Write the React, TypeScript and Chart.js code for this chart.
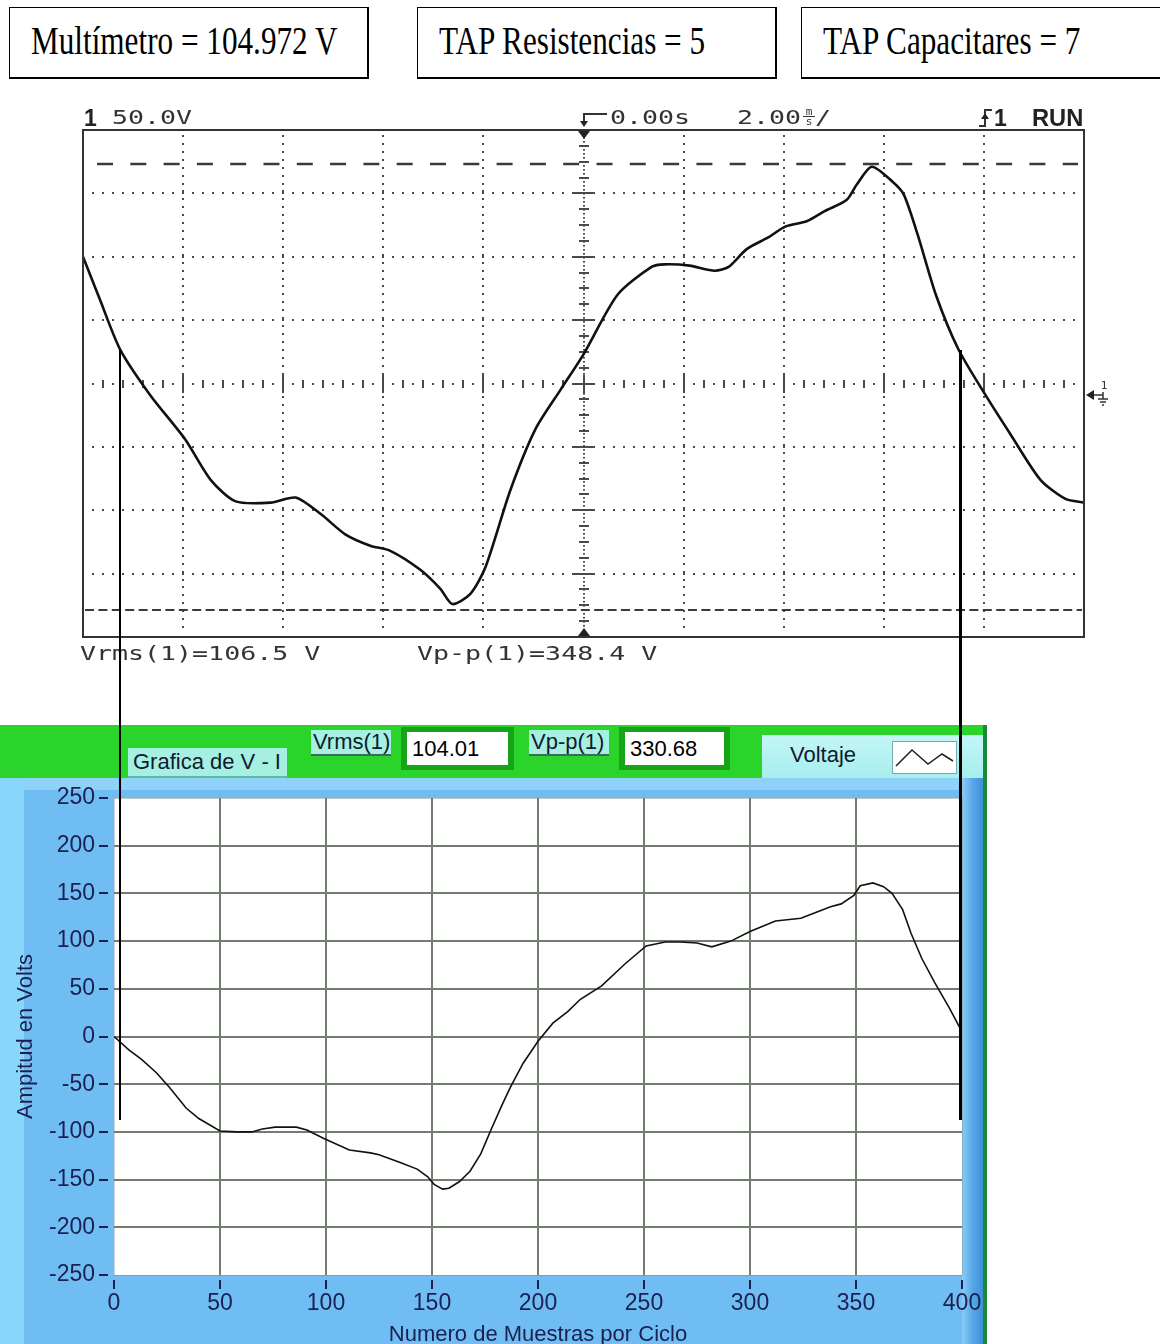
import React, { useEffect, useRef } from "react";
import { Chart, registerables } from "chart.js";

Chart.register(...registerables);

// ---------------- Header boxes ----------------
const headerBoxTexts = ["Multímetro = 104.972 V", "TAP Resistencias = 5", "TAP Capacitares = 7"];

// ---------------- Oscilloscope (top) ----------------
const scopeTimeMs = [-10, -9.66, -9.26, -8.66, -7.96, -7.45, -6.95, -6.25, -5.75, -5.25, -4.76, -4.26, -3.86, -3.26, -2.86, -2.62, -2.26, -1.96, -1.46, -0.96, -0.46, 0, 0.68, 1.36, 1.62, 2.12, 2.62, 2.9, 3.26, 3.68, 4.04, 4.46, 4.82, 5.26, 5.46, 5.76, 6.18, 6.4, 6.68, 7.04, 7.49, 8.03, 8.53, 9.13, 9.63, 10];
const scopeVolts = [100, 66, 27, -9, -44, -76, -93, -94, -90, -103, -119, -128, -132, -147, -162, -174, -166, -145, -84, -36, -5, 23, 70, 92, 94, 93, 89, 92, 106, 115, 124, 128, 136, 145, 157, 171, 159, 149, 117, 70, 27, -9, -40, -76, -91, -94];
const scopeTimeDivisions = [-10, -8, -6, -4, -2, 0, 2, 4, 6, 8, 10];
const scopeVoltDivisions = [-200, -150, -100, -50, 0, 50, 100, 150, 200];
const scopeCursorVolts = [173, -179];
const scopeChannelLabel = "50.0V";
const scopeDelayLabel = "0.00s";
const scopeTimebaseLabel = "2.00";
const scopeVrmsLabel = "Vrms(1)=106.5 V";
const scopeVppLabel = "Vp-p(1)=348.4 V";

// ---------------- LabVIEW graph (bottom) ----------------
const sampleIndex = [0, 7, 13, 20, 26, 34, 40, 50, 58, 65, 70, 76, 86, 91, 99, 111, 121, 125, 135, 143, 148, 151, 155, 158, 163, 168, 173, 178, 183, 187, 193, 200, 207, 214, 220, 230, 241, 251, 260, 267, 275, 282, 291, 300, 312, 324, 331, 338, 343, 349, 352, 358, 363, 367, 372, 376, 381, 387, 394, 399];
const sampleVolts = [0, -14, -24, -38, -53, -75, -86, -99, -100, -100, -97, -95, -95, -98, -107, -119, -122, -124, -132, -139, -147, -155, -160, -159, -152, -141, -123, -97, -72, -53, -28, -5, 14, 26, 39, 53, 76, 95, 99, 99, 98, 94, 100, 110, 121, 124, 130, 136, 139, 148, 158, 161, 157, 150, 133, 108, 82, 57, 30, 9];
const labXTicks = [0, 50, 100, 150, 200, 250, 300, 350, 400];
const labYTicks = [-250, -200, -150, -100, -50, 0, 50, 100, 150, 200, 250];
const labXTitle = "Numero de Muestras por Ciclo";
const labYTitle = "Ampitud en Volts";
const labGraphName = "Grafica de V - I";
const labVrmsName = "Vrms(1)";
const labVrmsValue = "104.01";
const labVppName = "Vp-p(1)";
const labVppValue = "330.68";
const labLegendName = "Voltaje";

const labFont = "'Liberation Sans', Arial, sans-serif";
const labInk = "#1b2050";

// ---------------- plugins ----------------
const scopeDecor = {
  id: "scopeDecor",
  beforeDatasetsDraw(chart: any) {
    const { ctx, chartArea } = chart;
    const { left, top, right, bottom } = chartArea;
    const xs = chart.scales.x;
    const ys = chart.scales.y;
    ctx.save();
    ctx.fillStyle = "#4a4a4a";
    const tMin = scopeTimeDivisions[0];
    const tMax = scopeTimeDivisions[scopeTimeDivisions.length - 1];
    const vMin = scopeVoltDivisions[0];
    const vMax = scopeVoltDivisions[scopeVoltDivisions.length - 1];
    for (const t of scopeTimeDivisions) {
      if (t === tMin || t === tMax || t === 0) continue;
      const px = Math.round(xs.getPixelForValue(t));
      for (let py = top + 6; py < bottom - 3; py += 7.92) ctx.fillRect(px - 1, Math.round(py) - 1, 2, 2);
    }
    for (const v of scopeVoltDivisions) {
      if (v === vMin || v === vMax || v === 0) continue;
      const py = Math.round(ys.getPixelForValue(v));
      for (let px = left + 10; px < right - 3; px += 10.01) ctx.fillRect(Math.round(px) - 1, py - 1, 2, 2);
    }
    const cy = Math.round(ys.getPixelForValue(0));
    const w = right - left;
    for (let k = 1; k < 50; k++) {
      const px = Math.round(left + (k * w) / 50);
      const major = k % 5 === 0;
      const h = major ? 18 : 8;
      ctx.fillRect(px - 1, cy - h / 2, 2, h);
    }
    for (let k = 0; k < 50; k++) {
      const mx = Math.round(left + ((k + 0.5) * w) / 50);
      ctx.fillRect(mx - 1, cy - 1, 2, 2);
    }
    const cx = Math.round(xs.getPixelForValue(0));
    const h = bottom - top;
    for (let py = top + 3; py < bottom - 2; py += 4) ctx.fillRect(cx - 1, py, 2, 1.6);
    for (let k = 1; k < 32; k++) {
      const py = Math.round(top + (k * h) / 32);
      const major = k % 4 === 0;
      const ww = major ? 22 : 10;
      ctx.fillRect(cx - ww / 2, py - 1, ww, 2);
    }
    ctx.strokeStyle = "#3a3a3a";
    ctx.lineWidth = 2.5;
    ctx.setLineDash([16, 17.3]);
    const yHi = Math.round(ys.getPixelForValue(scopeCursorVolts[0]));
    ctx.beginPath();
    ctx.moveTo(left + 14, yHi);
    ctx.lineTo(right - 6, yHi);
    ctx.stroke();
    ctx.lineWidth = 2;
    ctx.setLineDash([9, 4.4]);
    const yLo = Math.round(ys.getPixelForValue(scopeCursorVolts[1]));
    ctx.beginPath();
    ctx.moveTo(left + 2, yLo);
    ctx.lineTo(right - 2, yLo);
    ctx.stroke();
    ctx.restore();
  },
  afterDatasetsDraw(chart: any) {
    const { ctx, chartArea } = chart;
    const { left, top, right, bottom } = chartArea;
    const xs = chart.scales.x;
    const ys = chart.scales.y;
    const cx = Math.round(xs.getPixelForValue(0));
    ctx.save();
    ctx.strokeStyle = "#333";
    ctx.lineWidth = 2;
    ctx.strokeRect(left, top, right - left, bottom - top);
    ctx.fillStyle = "#222";
    ctx.beginPath();
    ctx.moveTo(cx - 6, top + 1);
    ctx.lineTo(cx + 6, top + 1);
    ctx.lineTo(cx, top + 9);
    ctx.closePath();
    ctx.fill();
    ctx.beginPath();
    ctx.moveTo(cx - 6, bottom - 1);
    ctx.lineTo(cx + 6, bottom - 1);
    ctx.lineTo(cx, bottom - 9);
    ctx.closePath();
    ctx.fill();
    ctx.strokeStyle = "#333";
    ctx.lineWidth = 2;
    ctx.beginPath();
    ctx.moveTo(cx + 23, top - 16);
    ctx.lineTo(cx, top - 16);
    ctx.lineTo(cx, top - 8);
    ctx.stroke();
    ctx.beginPath();
    ctx.moveTo(cx - 4, top - 9);
    ctx.lineTo(cx + 4, top - 9);
    ctx.lineTo(cx, top - 3);
    ctx.closePath();
    ctx.fill();
    const ix = right - 99;
    ctx.beginPath();
    ctx.moveTo(ix - 6, top - 4);
    ctx.lineTo(ix, top - 4);
    ctx.lineTo(ix, top - 20);
    ctx.lineTo(ix + 7, top - 20);
    ctx.stroke();
    ctx.beginPath();
    ctx.moveTo(ix - 4, top - 11);
    ctx.lineTo(ix + 4, top - 11);
    ctx.lineTo(ix, top - 17);
    ctx.closePath();
    ctx.fill();
    const gy = Math.round(ys.getPixelForValue(0)) + 11;
    ctx.beginPath();
    ctx.moveTo(right + 2, gy);
    ctx.lineTo(right + 10, gy - 5);
    ctx.lineTo(right + 10, gy + 5);
    ctx.closePath();
    ctx.fill();
    ctx.lineWidth = 1.5;
    ctx.beginPath();
    ctx.moveTo(right + 10, gy);
    ctx.lineTo(right + 19, gy);
    ctx.moveTo(right + 19, gy - 3);
    ctx.lineTo(right + 19, gy + 4);
    ctx.moveTo(right + 14, gy + 4);
    ctx.lineTo(right + 24, gy + 4);
    ctx.moveTo(right + 16, gy + 7);
    ctx.lineTo(right + 22, gy + 7);
    ctx.moveTo(right + 18, gy + 10);
    ctx.lineTo(right + 20, gy + 10);
    ctx.stroke();
    ctx.font = "11px 'DejaVu Sans Mono', monospace";
    ctx.fillStyle = "#333";
    ctx.textAlign = "center";
    ctx.fillText("1", right + 20, gy - 6);
    ctx.restore();
  },
};

const labDecor = {
  id: "labDecor",
  beforeDraw(chart: any) {
    const { ctx, chartArea } = chart;
    const { left, top, right, bottom } = chartArea;
    ctx.save();
    ctx.fillStyle = "#ffffff";
    ctx.fillRect(left, top, right - left, bottom - top);
    ctx.restore();
  },
  afterDraw(chart: any) {
    const { ctx, chartArea } = chart;
    const xs = chart.scales.x;
    const ys = chart.scales.y;
    ctx.save();
    ctx.fillStyle = labInk;
    for (const v of labYTicks) {
      const py = Math.round(ys.getPixelForValue(v));
      ctx.fillRect(chartArea.left - 15, py - 1, 9, 2);
    }
    for (const v of labXTicks) {
      const px = Math.round(xs.getPixelForValue(v));
      ctx.fillRect(px - 1, chartArea.bottom + 5, 2, 9);
    }
    ctx.restore();
  },
};

function ScopeChart() {
  const ref = useRef<HTMLCanvasElement>(null);
  useEffect(() => {
    const chart = new Chart(ref.current as HTMLCanvasElement, {
      type: "line",
      data: {
        datasets: [
          {
            data: scopeTimeMs.map((t, i) => ({ x: t, y: scopeVolts[i] })),
            borderColor: "#111",
            borderWidth: 2.6,
            pointRadius: 0,
            tension: 0.25,
            fill: false,
          },
        ],
      },
      options: {
        animation: false,
        responsive: false,
        devicePixelRatio: 1,
        layout: { autoPadding: false, padding: { left: 13, top: 35, right: 31, bottom: 33 } },
        plugins: { legend: { display: false }, tooltip: { enabled: false } },
        scales: {
          x: { type: "linear", min: scopeTimeDivisions[0], max: scopeTimeDivisions[scopeTimeDivisions.length - 1], display: false },
          y: { type: "linear", min: scopeVoltDivisions[0], max: scopeVoltDivisions[scopeVoltDivisions.length - 1], display: false },
        },
      } as any,
      plugins: [scopeDecor as any],
    });
    return () => chart.destroy();
  }, []);
  return (
    <canvas
      ref={ref}
      width={1045}
      height={575}
      style={{ position: "absolute", left: 70, top: 95, width: 1045, height: 575 }}
    />
  );
}

function LabChart() {
  const ref = useRef<HTMLCanvasElement>(null);
  useEffect(() => {
    const edgeX = (v: number) => v === labXTicks[0] || v === labXTicks[labXTicks.length - 1];
    const edgeY = (v: number) => v === labYTicks[0] || v === labYTicks[labYTicks.length - 1];
    const chart = new Chart(ref.current as HTMLCanvasElement, {
      type: "line",
      data: {
        datasets: [
          {
            data: sampleIndex.map((s, i) => ({ x: s, y: sampleVolts[i] })),
            borderColor: "#111",
            borderWidth: 1.6,
            pointRadius: 0,
            tension: 0,
            fill: false,
          },
        ],
      },
      options: {
        animation: false,
        responsive: false,
        devicePixelRatio: 1,
        layout: { autoPadding: false, padding: { left: 0, top: 20, right: 28, bottom: 0 } },
        plugins: { legend: { display: false }, tooltip: { enabled: false } },
        scales: {
          x: {
            type: "linear",
            min: labXTicks[0],
            max: labXTicks[labXTicks.length - 1],
            afterFit: (s: any) => {
              s.height = 83;
              s.paddingLeft = 0;
              s.paddingRight = 0;
              s.paddingTop = 0;
              s.paddingBottom = 0;
            },
            afterBuildTicks: (s: any) => {
              s.ticks = labXTicks.map((v) => ({ value: v }));
            },
            ticks: {
              padding: 15,
              autoSkip: false,
              maxRotation: 0,
              color: labInk,
              font: { family: labFont, size: 23 },
              callback: (v: any) => String(v),
            },
            grid: {
              drawTicks: false,
              color: (c: any) => (c.tick && edgeX(c.tick.value) ? "rgba(120,130,120,0.35)" : "#737d6f"),
              lineWidth: (c: any) => (c.tick && edgeX(c.tick.value) ? 1 : 2),
            },
            border: { display: false },
            title: {
              display: true,
              text: labXTitle,
              color: labInk,
              font: { family: labFont, size: 22 },
              padding: { top: 0, bottom: 10 },
            },
          },
          y: {
            type: "linear",
            min: labYTicks[0],
            max: labYTicks[labYTicks.length - 1],
            afterFit: (s: any) => {
              s.width = 114;
              s.paddingLeft = 0;
              s.paddingRight = 0;
              s.paddingTop = 0;
              s.paddingBottom = 0;
            },
            afterBuildTicks: (s: any) => {
              s.ticks = labYTicks.map((v) => ({ value: v }));
            },
            ticks: {
              padding: 19,
              autoSkip: false,
              color: labInk,
              font: { family: labFont, size: 23 },
              callback: (v: any) => String(v),
            },
            grid: {
              drawTicks: false,
              color: (c: any) => (c.tick && edgeY(c.tick.value) ? "rgba(120,130,120,0.45)" : "#737d6f"),
              lineWidth: (c: any) => (c.tick && edgeY(c.tick.value) ? 1 : 2),
            },
            border: { display: false },
            title: {
              display: true,
              text: labYTitle,
              color: labInk,
              font: { family: labFont, size: 22 },
              padding: { top: 13, bottom: 0 },
            },
          },
        },
      } as any,
      plugins: [labDecor as any],
    });
    return () => chart.destroy();
  }, []);
  return (
    <canvas
      ref={ref}
      width={990}
      height={580}
      style={{ position: "absolute", left: 0, top: 778, width: 990, height: 580 }}
    />
  );
}

const monoStyle: React.CSSProperties = {
  position: "absolute",
  fontFamily: "'DejaVu Sans Mono', monospace",
  fontSize: 20,
  lineHeight: "20px",
  color: "#333",
  letterSpacing: "0px",
  transform: "scaleX(1.33)",
  transformOrigin: "left top",
  whiteSpace: "pre",
};

const boldStyle: React.CSSProperties = {
  position: "absolute",
  fontFamily: "'Liberation Sans', Arial, sans-serif",
  fontWeight: "bold",
  fontSize: 23,
  lineHeight: "23px",
  color: "#222",
  whiteSpace: "pre",
};

function HeaderBox({ left, width, text }: { left: number; width: number; text: string }) {
  return (
    <div
      style={{
        position: "absolute",
        left,
        top: 7,
        width,
        height: 72,
        boxSizing: "border-box",
        borderTop: "1px solid #000",
        borderLeft: "1px solid #000",
        borderRight: "2px solid #000",
        borderBottom: "2px solid #000",
        background: "#fff",
      }}
    >
      <div
        style={{
          position: "absolute",
          left: 21,
          top: 13,
          fontFamily: "'Liberation Serif', 'Times New Roman', serif",
          fontSize: 39,
          lineHeight: "39px",
          color: "#000",
          whiteSpace: "pre",
          transform: "scaleX(0.8)",
          transformOrigin: "left top",
        }}
      >
        {text}
      </div>
    </div>
  );
}

const labTextStyle: React.CSSProperties = {
  fontFamily: labFont,
  fontSize: 22,
  color: "#111a30",
  whiteSpace: "pre",
  lineHeight: "22px",
};

export default function App() {
  return (
    <div
      style={{
        position: "absolute",
        left: 0,
        top: 0,
        width: 1160,
        height: 1344,
        overflow: "hidden",
        background: "#fff",
      }}
    >
      <HeaderBox left={9} width={360} text={headerBoxTexts[0]} />
      <HeaderBox left={417} width={360} text={headerBoxTexts[1]} />
      <HeaderBox left={801} width={400} text={headerBoxTexts[2]} />

      {/* Oscilloscope */}
      <ScopeChart />
      <div style={{ ...boldStyle, left: 84, top: 107 }}>1</div>
      <div style={{ ...monoStyle, left: 112, top: 107 }}>{scopeChannelLabel}</div>
      <div style={{ ...monoStyle, left: 610, top: 107 }}>{scopeDelayLabel}</div>
      <div style={{ ...monoStyle, left: 737, top: 107 }}>{scopeTimebaseLabel}</div>
      <div
        style={{
          position: "absolute",
          left: 803,
          top: 108,
          width: 12,
          fontFamily: "'DejaVu Sans Mono', monospace",
          fontSize: 11,
          lineHeight: "8px",
          color: "#333",
          textAlign: "center",
        }}
      >
        <div>m</div>
        <div style={{ borderTop: "1px solid #333", paddingTop: 1 }}>s</div>
      </div>
      <div style={{ ...monoStyle, left: 815, top: 107 }}>/</div>
      <div style={{ ...boldStyle, left: 994, top: 107 }}>1</div>
      <div style={{ ...boldStyle, left: 1032, top: 107, transform: "scaleX(1.03)", transformOrigin: "left top" }}>RUN</div>
      <div style={{ ...monoStyle, left: 80, top: 643 }}>{scopeVrmsLabel}</div>
      <div style={{ ...monoStyle, left: 417, top: 643 }}>{scopeVppLabel}</div>

      {/* LabVIEW front panel */}
      <div style={{ position: "absolute", left: 0, top: 725, width: 985, height: 53, background: "#2bd42b" }} />
      <div style={{ position: "absolute", left: 0, top: 778, width: 962, height: 566, background: "#70bdf4" }} />
      <div style={{ position: "absolute", left: 0, top: 778, width: 962, height: 12, background: "#8fd2f8" }} />
      <div style={{ position: "absolute", left: 0, top: 778, width: 24, height: 566, background: "#88d6f9" }} />
      <div
        style={{
          position: "absolute",
          left: 962,
          top: 778,
          width: 21,
          height: 566,
          background: "linear-gradient(90deg, #8ccbf5 0%, #58a8e8 50%, #3d8ed6 100%)",
        }}
      />
      <div style={{ position: "absolute", left: 983, top: 725, width: 4, height: 619, background: "#1a8a3a" }} />

      <div
        style={{
          position: "absolute",
          left: 128,
          top: 748,
          width: 159,
          height: 30,
          background: "#a6f0e2",
          boxSizing: "border-box",
          borderBottom: "2px solid #5fb8a8",
          display: "flex",
          alignItems: "center",
          paddingLeft: 5,
        }}
      >
        <span style={labTextStyle}>{labGraphName}</span>
      </div>
      <div
        style={{
          position: "absolute",
          left: 311,
          top: 730,
          width: 80,
          height: 26,
          background: "#a6f0e2",
          boxSizing: "border-box",
          borderBottom: "2px solid #3a6a60",
          display: "flex",
          alignItems: "center",
          paddingLeft: 2,
        }}
      >
        <span style={labTextStyle}>{labVrmsName}</span>
      </div>
      <div style={{ position: "absolute", left: 401, top: 727, width: 113, height: 43, background: "#17a517" }} />
      <div
        style={{
          position: "absolute",
          left: 407,
          top: 732,
          width: 101,
          height: 33,
          background: "#fff",
          display: "flex",
          alignItems: "center",
          paddingLeft: 5,
          boxSizing: "border-box",
        }}
      >
        <span style={{ ...labTextStyle, color: "#000" }}>{labVrmsValue}</span>
      </div>
      <div
        style={{
          position: "absolute",
          left: 529,
          top: 730,
          width: 80,
          height: 26,
          background: "#a6f0e2",
          boxSizing: "border-box",
          borderBottom: "2px solid #3a6a60",
          display: "flex",
          alignItems: "center",
          paddingLeft: 2,
        }}
      >
        <span style={labTextStyle}>{labVppName}</span>
      </div>
      <div style={{ position: "absolute", left: 619, top: 727, width: 111, height: 43, background: "#17a517" }} />
      <div
        style={{
          position: "absolute",
          left: 625,
          top: 732,
          width: 99,
          height: 33,
          background: "#fff",
          display: "flex",
          alignItems: "center",
          paddingLeft: 5,
          boxSizing: "border-box",
        }}
      >
        <span style={{ ...labTextStyle, color: "#000" }}>{labVppValue}</span>
      </div>
      <div
        style={{
          position: "absolute",
          left: 762,
          top: 735,
          width: 221,
          height: 43,
          background: "linear-gradient(180deg, #c4f6f6 0%, #a6eeee 100%)",
        }}
      >
        <span style={{ ...labTextStyle, position: "absolute", left: 28, top: 9 }}>{labLegendName}</span>
        <svg
          width={63}
          height={31}
          style={{ position: "absolute", left: 130, top: 6, background: "#fff", border: "1px solid #7aa" }}
        >
          <polyline points="3,24 19,8 35,22 49,12 60,19" fill="none" stroke="#222" strokeWidth={1.5} />
        </svg>
      </div>

      <LabChart />

      {/* connector lines */}
      <div style={{ position: "absolute", left: 119, top: 350, width: 2, height: 770, background: "#000", zIndex: 10 }} />
      <div style={{ position: "absolute", left: 959, top: 350, width: 3, height: 770, background: "#000", zIndex: 10 }} />
    </div>
  );
}
